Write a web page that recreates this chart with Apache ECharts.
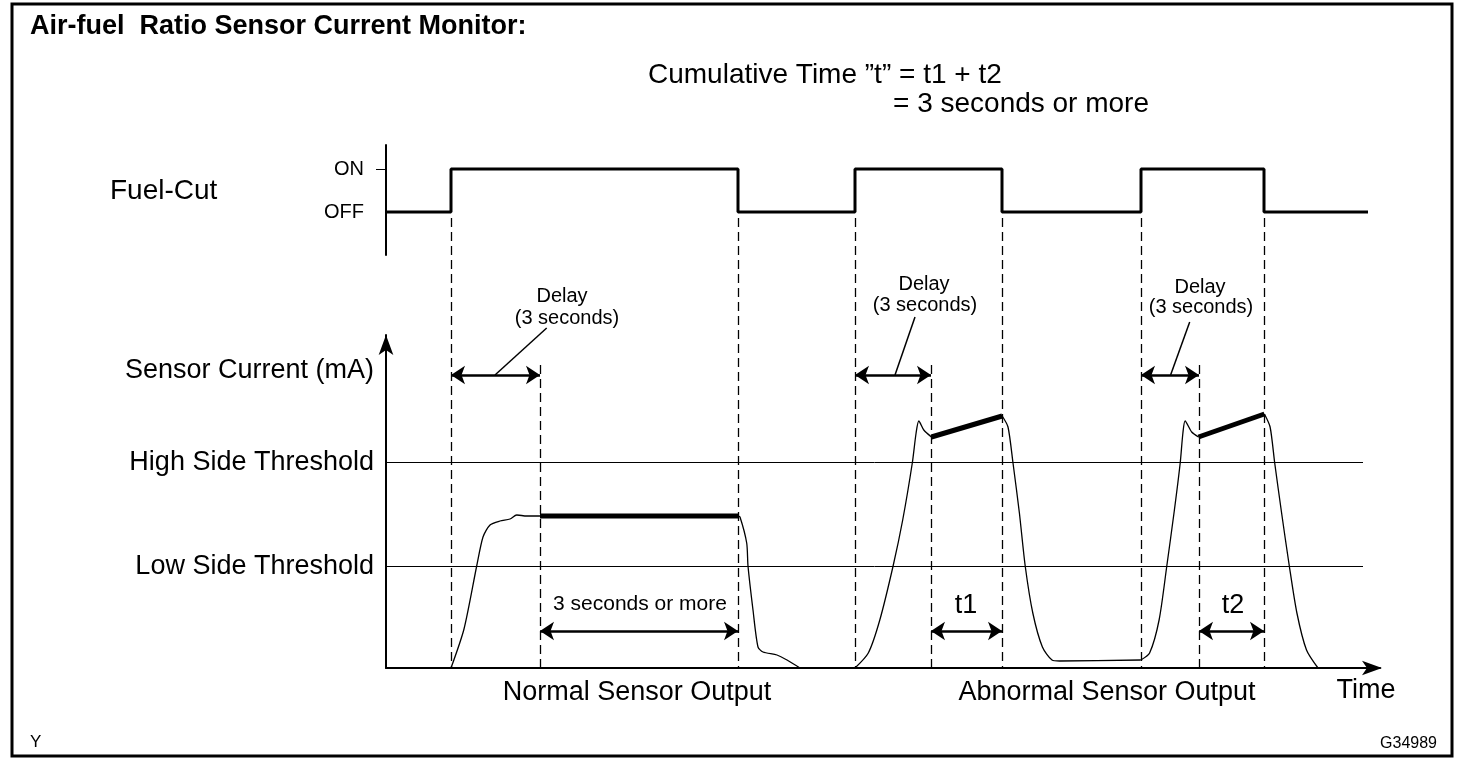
<!DOCTYPE html>
<html>
<head>
<meta charset="utf-8">
<script src="https://cdn.jsdelivr.net/npm/echarts@6/dist/echarts.min.js"></script>
<style>
  html, body { margin: 0; padding: 0; background: #fff; }
  #main { width: 1472px; height: 770px; }
</style>
</head>
<body>
<div id="main"></div>
<script>
// time runs 0..99.4 (arbitrary units), sensor current 0..33.3 (arbitrary mA units)
const fuelCut = [[0, 0], [6.5, 1], [35.2, 0], [46.9, 1], [61.6, 0], [75.5, 1], [87.8, 0], [98.2, 0]];

const highThreshold = 20.55;
const lowThreshold = 10.15;
const thresholdEnd = 97.7;

// thin sensor traces
const normalRise = [[6.5, 0], [7.8, 3.9], [9.07, 10.2], [9.7, 13.1], [10.4, 14.3], [11.4, 14.7], [12.4, 14.9], [13.07, 15.3], [14.07, 15.2], [15.4, 15.2]];
const normalFall = [[35.2, 15.2], [35.4, 15.1], [36.07, 12.5], [36.2, 10.2], [36.7, 5.8], [37.2, 2.1], [37.7, 1.6], [39.1, 1.3], [40.1, 0.8], [41.4, 0]];
const abnormalRise1 = [[46.9, 0], [48.23, 1.5], [49.38, 4.8], [50.71, 10.2], [51.67, 14.8], [52.63, 20.5], [53.01, 23.5], [53.28, 24.7], [53.78, 23.8], [54.54, 23.1]];
const abnormalFall1 = [[61.62, 25.2], [62.2, 24.1], [62.7, 20.5], [63.34, 15.5], [63.92, 10.2], [64.68, 5.5], [65.64, 2.1], [66.6, 0.8], [67.36, 0.7], [75.48, 0.8]];
const abnormalRise2 = [[75.48, 0.8], [76.36, 1.5], [77.31, 4.8], [78.08, 10.2], [78.84, 15.8], [79.42, 20.5], [79.69, 23.5], [79.91, 24.7], [80.57, 23.6], [81.25, 23.1]];
const abnormalFall2 = [[87.84, 25.4], [88.41, 24.1], [88.87, 20.5], [89.56, 15.5], [90.33, 10.2], [91.09, 5.5], [92.05, 1.8], [93.2, 0]];

// thick segments (time counted toward the monitor)
const normalHold = [[15.4, 15.2], [35.2, 15.2]];
const abnormalHold1 = [[54.54, 23.1], [61.62, 25.2]];
const abnormalHold2 = [[81.25, 23.1], [87.84, 25.4]];

// dashed guide lines: [time, top]
const guides = [[6.5, 45.0], [15.4, 30.3], [35.2, 45.0], [46.9, 45.0], [54.5, 30.3], [61.6, 45.0], [75.5, 45.0], [81.3, 30.3], [87.8, 45.0]];

// double arrows: [from, to, level]
const spans = [[6.5, 15.4, 29.3], [46.9, 54.5, 29.3], [75.5, 81.3, 29.3], [15.4, 35.2, 3.7], [54.5, 61.6, 3.7], [81.3, 87.8, 3.7]];
const leaders = [[[10.9, 29.3], [16.07, 34.0]], [[50.9, 29.3], [52.9, 35.1]], [[78.46, 29.3], [80.37, 34.6]]];

const notes = [
  [17.6, 37.2, 'Delay', 20], [18.1, 35.0, '(3 seconds)', 20],
  [53.8, 38.4, 'Delay', 20], [53.9, 36.3, '(3 seconds)', 20],
  [81.4, 38.1, 'Delay', 20], [81.5, 36.1, '(3 seconds)', 20],
  [25.4, 6.4, '3 seconds or more', 21],
  [58.0, 6.2, 't1', 27], [84.7, 6.2, 't2', 27]
];

const fuelLabels = { 0: 'OFF', 1: 'ON' };
const sensorTicks = [lowThreshold, highThreshold, 29.7];
const sensorLabels = ['Low Side Threshold', 'High Side Threshold', 'Sensor Current (mA)'];
const timeTicks = [25.1, 72.1];
const timeLabels = ['Normal Sensor Output', 'Abnormal Sensor Output'];

const FONT = 'Liberation Sans, Arial, sans-serif';
const black = '#000';

var chart = echarts.init(document.getElementById('main'));

function trace(data, width) {
  return {
    type: 'line', xAxisIndex: 1, yAxisIndex: 1, data: data,
    showSymbol: false, smooth: width > 2 ? false : 0.25, silent: true,
    lineStyle: { color: black, width: width }
  };
}

var option = {
  animation: false,
  backgroundColor: '#fff',
  textStyle: { fontFamily: FONT, color: black },
  graphic: [
    { type: 'rect', shape: { x: 12, y: 4, width: 1440, height: 752 }, style: { fill: 'none', stroke: black, lineWidth: 3 } },
    { type: 'text', left: 30, top: 13, style: { text: 'Air-fuel  Ratio Sensor Current Monitor:', font: 'bold 27px ' + FONT, fill: black } },
    { type: 'text', left: 648, top: 61, style: { text: 'Cumulative Time \u201dt\u201d = t1 + t2', font: '28px ' + FONT, fill: black } },
    { type: 'text', left: 893, top: 90, style: { text: '= 3 seconds or more', font: '28px ' + FONT, fill: black } },
    { type: 'text', left: 110, top: 177, style: { text: 'Fuel-Cut', font: '28px ' + FONT, fill: black } },
    { type: 'text', left: 30, top: 734, style: { text: 'Y', font: '17px ' + FONT, fill: black } },
    { type: 'text', right: 35, top: 736, style: { text: 'G34989', font: '16px ' + FONT, fill: black } }
  ],
  grid: [
    { left: 386, right: 92, top: 145, height: 110 },
    { left: 386, right: 92, top: 335, bottom: 102 },
    { left: 386, right: 92, top: 145, bottom: 102 }
  ],
  xAxis: [
    { gridIndex: 0, type: 'value', min: 0, max: 99.4, show: false },
    {
      gridIndex: 1, type: 'value', min: 0, max: 99.4,
      axisLine: { lineStyle: { color: black, width: 2 }, symbol: ['none', 'arrow'], symbolSize: [11, 20], symbolOffset: [0, 2] },
      axisTick: { show: false }, splitLine: { show: false },
      axisLabel: {
        customValues: timeTicks, margin: 11, fontSize: 27, color: black,
        formatter: function (v) { return timeLabels[timeTicks.indexOf(v)] || ''; }
      },
      name: 'Time', nameLocation: 'end', nameGap: -14,
      nameTextStyle: { fontSize: 27, color: black, align: 'center', verticalAlign: 'top', padding: [9, 0, 0, 0] }
    },
    { gridIndex: 2, type: 'value', min: 0, max: 99.4, show: false }
  ],
  yAxis: [
    {
      gridIndex: 0, type: 'value', min: -1, max: 1.56,
      axisLine: { show: true, lineStyle: { color: black, width: 2 } },
      axisTick: { show: true, customValues: [1], length: 10, lineStyle: { color: black } },
      splitLine: { show: false },
      axisLabel: {
        customValues: [0, 1], margin: 22, fontSize: 20, color: black,
        formatter: function (v) { return fuelLabels[v] || ''; }
      }
    },
    {
      gridIndex: 1, type: 'value', min: 0, max: 33.3,
      axisLine: { show: true, lineStyle: { color: black, width: 2 }, symbol: ['none', 'arrow'], symbolSize: [11, 20], symbolOffset: [0, 0] },
      axisTick: { show: false }, splitLine: { show: false },
      axisLabel: {
        customValues: sensorTicks, margin: 12, fontSize: 27, color: black,
        formatter: function (v) { return sensorLabels[sensorTicks.indexOf(v)] || ''; }
      }
    },
    { gridIndex: 2, type: 'value', min: 0, max: 52.3, show: false }
  ],
  series: [
    {
      type: 'line', xAxisIndex: 0, yAxisIndex: 0, data: fuelCut, step: 'end',
      showSymbol: false, silent: true, lineStyle: { color: black, width: 3 }
    },
    {
      type: 'line', xAxisIndex: 1, yAxisIndex: 1, silent: true, showSymbol: false,
      data: [[0, highThreshold], [thresholdEnd, highThreshold], null, [0, lowThreshold], [thresholdEnd, lowThreshold]],
      connectNulls: false, lineStyle: { color: black, width: 1 }
    },
    trace(normalRise, 1.3), trace(normalFall, 1.3),
    trace(abnormalRise1, 1.3), trace(abnormalFall1, 1.3),
    trace(abnormalRise2, 1.3), trace(abnormalFall2, 1.3),
    trace(normalHold, 5), trace(abnormalHold1, 5), trace(abnormalHold2, 5),
    {
      type: 'lines', coordinateSystem: 'cartesian2d', xAxisIndex: 2, yAxisIndex: 2, silent: true,
      data: guides.map(function (g) { return { coords: [[g[0], g[1]], [g[0], 0]] }; }),
      lineStyle: { color: black, width: 1.3, type: [9, 5], opacity: 1 }
    },
    {
      type: 'lines', coordinateSystem: 'cartesian2d', xAxisIndex: 2, yAxisIndex: 2, silent: true,
      symbol: ['arrow', 'arrow'], symbolSize: 14,
      data: spans.map(function (s) { return { coords: [[s[0], s[2]], [s[1], s[2]]] }; }),
      lineStyle: { color: black, width: 2.5, opacity: 1 }
    },
    {
      type: 'lines', coordinateSystem: 'cartesian2d', xAxisIndex: 2, yAxisIndex: 2, silent: true,
      data: leaders.map(function (l) { return { coords: l }; }),
      lineStyle: { color: black, width: 1.5, opacity: 1 }
    },
    {
      type: 'scatter', xAxisIndex: 2, yAxisIndex: 2, symbolSize: 0, silent: true,
      itemStyle: { opacity: 1 },
      data: notes.map(function (n) {
        return {
          value: [n[0], n[1]],
          label: { show: true, position: 'inside', formatter: n[2], fontSize: n[3], color: black, fontFamily: FONT }
        };
      })
    }
  ]
};
option && chart.setOption(option);
</script>
</body>
</html>
